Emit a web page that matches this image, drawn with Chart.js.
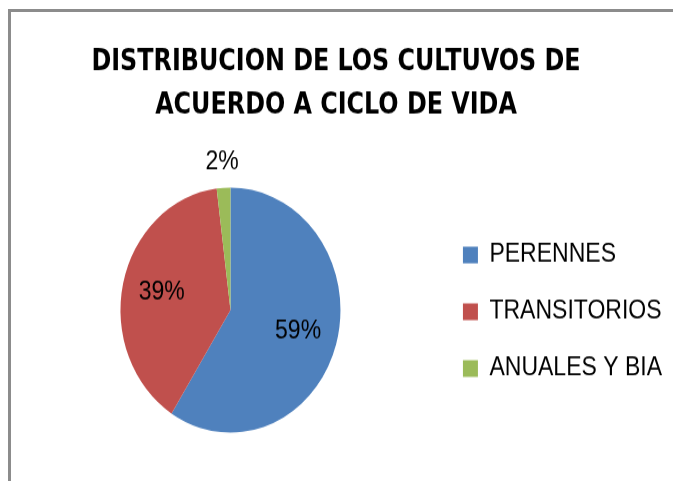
<!DOCTYPE html>
<html>
<head>
<meta charset="utf-8">
<script src="https://cdn.jsdelivr.net/npm/chart.js@4/dist/chart.umd.min.js"></script>
<style>
  html, body { margin: 0; padding: 0; background: #fff; overflow: hidden; width: 673px; height: 481px; }
  .rule { position: absolute; background: #8c8c8c; }
  #topRule { left: 8px; top: 9px; width: 665px; height: 3px; }
  #leftRule { left: 8px; top: 9px; width: 3px; height: 472px; }
  #wrap { position: absolute; left: 0; top: 0; width: 673px; height: 432px;
          transform: scaleY(1.1134); transform-origin: 0 0; }
</style>
</head>
<body>
<div id="wrap"><canvas id="c" width="673" height="432"></canvas></div>
<div class="rule" id="topRule"></div>
<div class="rule" id="leftRule"></div>
<script>
const titleLines = ["DISTRIBUCION DE LOS CULTUVOS DE", "ACUERDO A CICLO DE VIDA"];
const categories = ["PERENNES", "TRANSITORIOS", "ANUALES Y BIA"];
const values = [59, 39, 2];
const colors = ["#4F81BD", "#C0504D", "#9BBB59"];

const labelPlugin = {
  id: 'pctLabels',
  afterDatasetsDraw(chart) {
    const ctx = chart.ctx;
    const meta = chart.getDatasetMeta(0);
    const data = chart.data.datasets[0].data;
    const total = data.reduce((a, b) => a + b, 0);
    ctx.save();
    ctx.font = '23px "Liberation Sans", Arial, sans-serif';
    ctx.fillStyle = '#000';
    ctx.textAlign = 'center';
    ctx.textBaseline = 'middle';
    meta.data.forEach((arc, i) => {
      const p = arc.getProps(['x', 'y', 'startAngle', 'endAngle', 'outerRadius'], true);
      const mid = (p.startAngle + p.endAngle) / 2;
      const pct = Math.round(data[i] / total * 100);
      const f = pct < 5 ? 1.21 : 0.64;
      const x = p.x + Math.cos(mid) * p.outerRadius * f;
      const y = p.y + Math.sin(mid) * p.outerRadius * f;
      ctx.fillText(pct + '%', x, y);
    });
    ctx.restore();
  }
};

new Chart(document.getElementById('c'), {
  type: 'pie',
  data: {
    labels: categories.map(c => [c]),
    datasets: [{
      data: values,
      backgroundColor: colors,
      borderWidth: 0,
      radius: 110
    }]
  },
  options: {
    responsive: false,
    animation: false,
    devicePixelRatio: 1,
    layout: { padding: { top: 10, left: 0, right: 1, bottom: 0 } },
    plugins: {
      title: {
        display: true,
        text: titleLines,
        color: '#000',
        font: { family: '"DejaVu Sans Condensed", sans-serif', size: 26.5, weight: 'bold', lineHeight: 1.453 },
        padding: { top: 27, bottom: 11 }
      },
      legend: {
        display: true,
        position: 'right',
        align: 'center',
        title: {
          display: true,
          text: ' ',
          font: { size: 1, lineHeight: 1 },
          padding: { top: 143, bottom: 0 }
        },
        labels: {
          color: '#000',
          boxWidth: 15,
          boxHeight: 15,
          padding: 2,
          font: { family: '"Liberation Sans", Arial, sans-serif', size: 23, lineHeight: 2.13 }
        }
      },
      tooltip: { enabled: false }
    }
  },
  plugins: [labelPlugin]
});
</script>
</body>
</html>
